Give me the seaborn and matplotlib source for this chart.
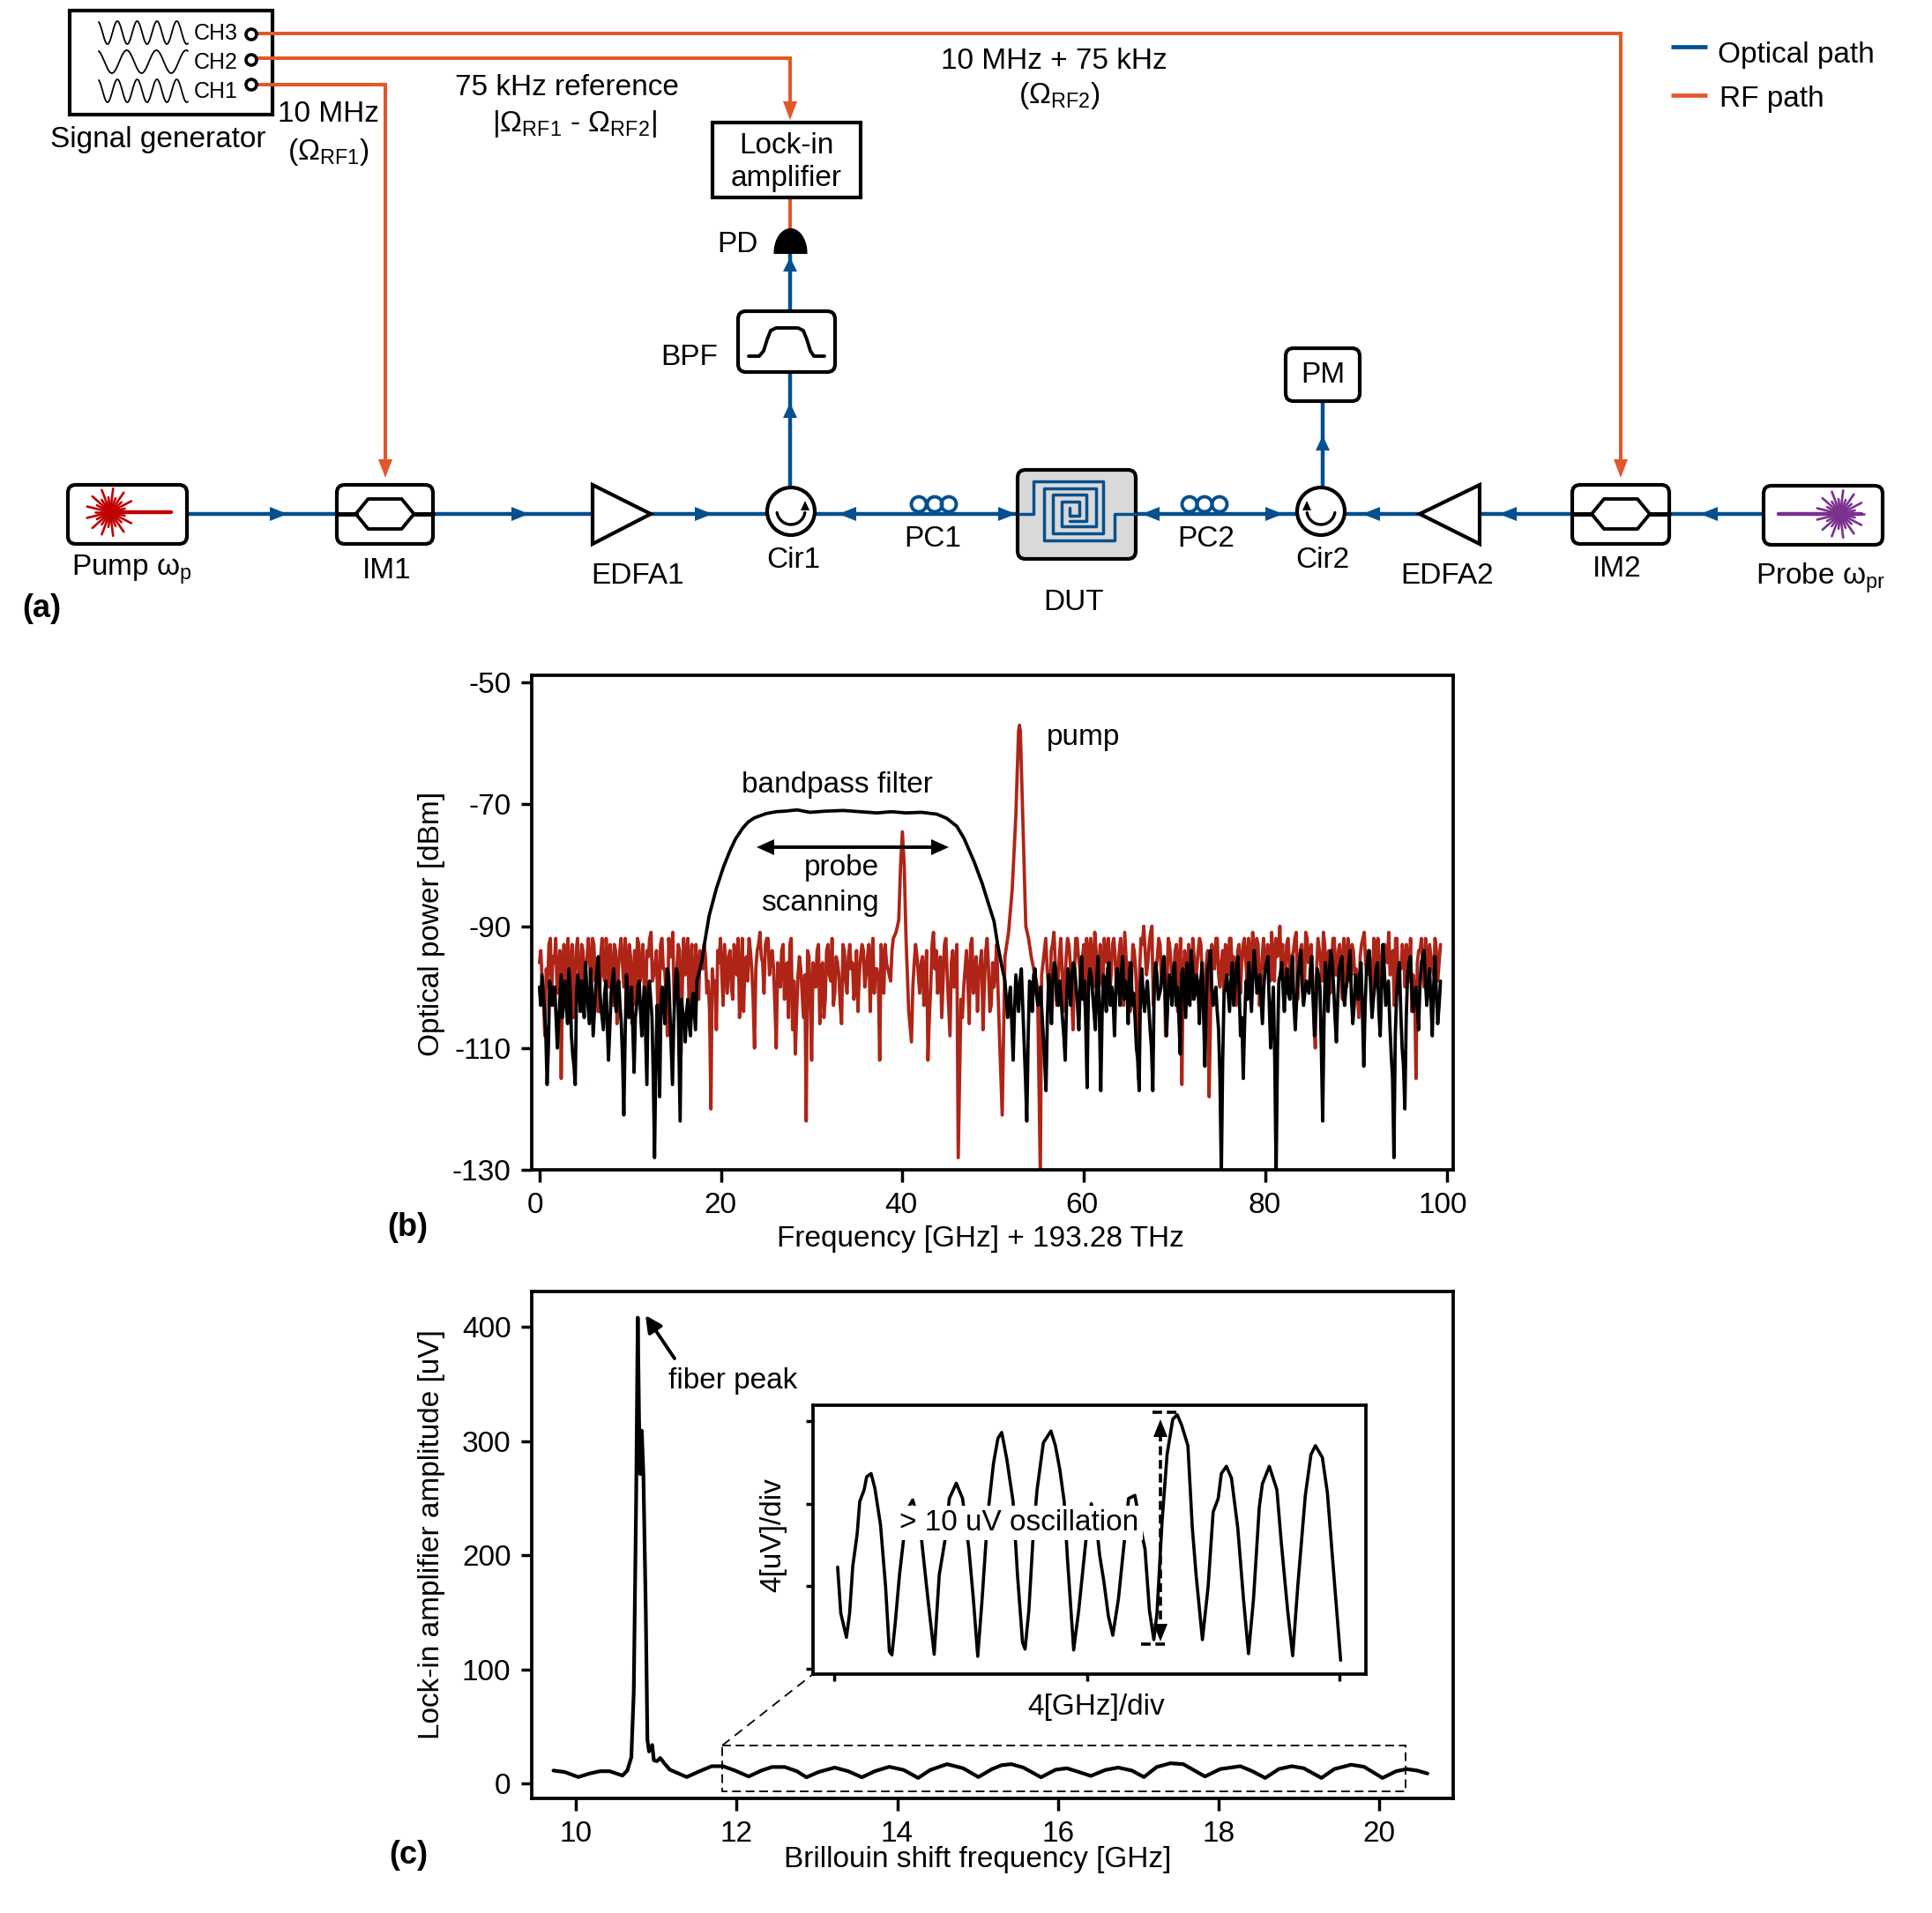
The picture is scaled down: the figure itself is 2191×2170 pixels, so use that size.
import numpy as np
import matplotlib
matplotlib.use("Agg")
import matplotlib.pyplot as plt
from matplotlib.patches import FancyBboxPatch, Polygon, Circle, Rectangle
from matplotlib.transforms import ScaledTranslation
import seaborn as sns

W, H = 2191, 2170
BLUE = "#04508f"
ORANGE = "#e2572b"
RED = "#ae2517"
LASER_RED = "#c00000"
PURPLE = "#7b2f8f"

# panel (b): optical spectrum, every noise stretch has a list of samples and
# a list of the samples read half a step further on
red_low = [-96, -99, -108, -100, -92, -95, -92, -99, -115, -93,
           -95, -100, -93, -98, -92, -104, -94, -97, -92, -101,
           -93, -96, -104, -92, -99, -95, -93, -103, -94, -97,
           -92, -100, -96, -93, -106, -94, -92, -99, -93, -104,
           -95, -91, -98, -94, -102, -92, -97, -108, -95, -91,
           -100, -93, -111, -92, -96, -104, -93, -99, -97, -94,
           -97, -95, -99, -120, -100, -107, -96, -98, -93, -101,
           -94, -102, -96, -92, -99, -104, -95, -92, -97, -110,
           -94, -91, -96, -93, -92, -95, -97, -110, -99, -94,
           -102, -96, -93, -107, -111, -98, -97, -105, -122, -95,
           -112, -97, -94, -106, -96, -102, -93, -99, -103, -95,
           -98, -106, -94, -101, -93, -96, -100, -104, -95, -94,
           -98, -93, -96, -101, -97, -112, -95, -93, -97, -99, -92]
red_low_half = [-94, -102, -97, -93, -100, -96, -101, -94, -98, -103,
                -92, -97, -105, -94, -99, -93, -101, -95, -96, -92,
                -99, -104, -95, -98, -92, -100, -97, -93, -106, -94,
                -96, -92, -101, -95, -98, -103, -93, -97, -100, -94,
                -92, -99, -96, -104, -93, -97, -101, -92, -95, -103,
                -97, -94, -100, -98, -92, -96, -105, -93, -102, -95,
                -93, -101, -104, -97, -99, -94, -92, -103, -97, -95,
                -100, -93, -98, -105, -92, -96, -99, -94, -102, -97,
                -93, -95, -101, -92, -98, -94, -103, -96, -100, -93,
                -97, -105, -92, -99, -104, -95, -101, -98, -94, -102,
                -96, -100, -93, -97, -105, -94, -98, -92, -101, -96,
                -103, -93, -99, -95, -97, -102, -94, -98, -93, -100,
                -95, -104, -92, -97, -99, -93, -101, -96, -98, -94]
probe_freq = [39.3, 39.6, 39.8, 40.0, 40.2, 40.4, 40.7]
probe_db = [-91, -89, -80, -74.5, -80, -92, -104]
red_mid = [-109, -96, -95, -101, -95, -98, -112, -100, -91, -94, -99, -105, -93,
           -98, -108, -94, -97, -128, -102, -100, -94, -106, -92, -99, -104, -96,
           -107, -94, -97, -103, -100, -93, -108]
red_mid_half = [-100, -93, -98, -96, -103, -94, -105, -93, -97, -101, -95, -99, -92,
                -103, -96, -100, -93, -115, -105, -97, -99, -93, -101, -95, -98, -94,
                -100, -92, -104, -96, -97, -101]
pump_freq = [51.0, 51.3, 51.7, 52.1, 52.5, 52.8, 52.9, 53.0, 53.3, 53.6, 53.9, 54.2, 54.6]
pump_db = [-121, -95, -91, -84, -72, -58, -57, -58, -74, -90, -92, -95, -98]
red_high = [-100, -131, -96, -92, -100, -94, -91, -103, -95, -97,
            -100, -92, -96, -107, -92, -95, -100, -93, -92, -99,
            -96, -91, -104, -93, -100, -95, -92, -98, -92, -101,
            -94, -96, -91, -99, -104, -93, -97, -115, -92, -90,
            -98, -93, -90, -100, -95, -93, -97, -108, -92, -96,
            -99, -93, -97, -116, -94, -100, -96, -92, -99, -94,
            -93, -105, -96, -118, -93, -97, -92, -100, -94, -93,
            -98, -92, -95, -103, -93, -96, -92, -99, -94, -91,
            -97, -93, -100, -92, -96, -94, -91, -99, -95, -90,
            -93, -98, -92, -101, -94, -91, -97, -93, -100, -92,
            -95, -99, -110, -92, -96, -91, -100, -94, -97, -92,
            -98, -93, -102, -95, -92, -99, -94, -97, -105, -93,
            -91, -98, -95, -101, -93, -92, -99, -96, -94, -91,
            -97, -103, -92, -96, -93, -100, -95, -92, -98, -115,
            -94, -92, -100, -95, -93, -97, -92, -99, -93]
red_high_half = [-115, -98, -94, -97, -102, -93, -96, -99, -92, -104,
                 -95, -93, -101, -98, -92, -97, -95, -103, -94, -92,
                 -100, -94, -97, -99, -92, -96, -101, -93, -95, -98,
                 -92, -103, -95, -96, -99, -94, -102, -97, -93, -94,
                 -96, -91, -103, -97, -92, -99, -95, -100, -93, -101,
                 -94, -104, -92, -98, -96, -93, -102, -95, -97, -92,
                 -99, -100, -94, -105, -95, -92, -98, -96, -101, -94,
                 -92, -97, -99, -94, -101, -93, -96, -92, -98, -95,
                 -92, -103, -95, -97, -93, -99, -96, -92, -94, -97,
                 -100, -93, -96, -95, -92, -102, -94, -98, -91, -96,
                 -93, -104, -97, -94, -99, -93, -95, -101, -92, -98,
                 -94, -96, -92, -100, -95, -93, -98, -101, -95, -92,
                 -96, -94, -99, -92, -97, -95, -100, -93, -96, -98,
                 -94, -92, -101, -97, -95, -93, -99, -104, -100, -96,
                 -94, -97, -92, -101, -95, -98, -94, -96]
black_low = [-100, -98, -104, -116, -99, -103, -100, -110, -102, -105,
             -99, -106, -100, -111, -116, -98, -104, -101, -96, -103,
             -97, -108, -100, -95, -103, -107, -99, -112, -101, -97,
             -104, -99, -106, -121, -98, -105, -100, -114, -103, -99,
             -108, -100, -116, -99, -105, -128, -103, -118, -100, -106,
             -97, -104, -116, -100, -98, -122, -104, -109, -102, -108, -101, -107]
black_low_half = [-103, -101, -108, -110, -101, -100, -105, -106, -98, -102,
                  -103, -97, -108, -113, -101, -100, -99, -105, -100, -106,
                  -101, -104, -97, -100, -105, -101, -106, -107, -99, -102,
                  -100, -103, -112, -108, -101, -103, -107, -105, -100, -104,
                  -103, -108, -101, -102, -115, -112, -108, -103, -102, -100,
                  -98, -110, -106, -97, -110, -102, -105, -104, -106, -103, -104]
filter_freq = [17.35, 17.9, 18.15, 18.7, 19.5, 20.3, 21.0, 21.6, 22.4, 23.0, 23.7, 25.0, 26.1, 27.1, 28.4, 29.8,
               31.6, 33.5, 35.3, 37.2, 38.8, 40.4, 42.1, 43.8, 44.9, 46.0, 46.8, 47.9, 48.8, 49.4, 50.1, 50.5, 51.0, 51.3]
filter_db = [-99, -95.8, -93.2, -88.3, -83.8, -80.2, -77.6, -75.7, -73.9, -72.9, -72.2, -71.5, -71.2, -71.1, -70.9, -71.3,
             -71.1, -71, -71.2, -71.4, -71.2, -71.4, -71.3, -71.6, -72.3, -73.6, -75.6, -79.4, -83, -85.9, -89.2, -93, -96.9, -98.9]
black_high = [-105, -100, -112, -98, -104, -97, -109, -122, -99, -104,
              -97, -103, -100, -108, -117, -98, -106, -96, -102, -99,
              -105, -112, -97, -103, -96, -100, -107, -95, -99, -116.5,
              -97, -101, -107, -95, -117, -98, -104, -96, -100, -108,
              -97, -103, -95, -99, -106, -96, -101, -110, -117, -97,
              -104, -99, -107, -117, -96, -102, -100, -95, -108, -98,
              -103, -96, -100, -111, -97, -105, -99, -94, -102, -98,
              -106, -96, -113, -97, -94, -103, -100, -107, -131, -101,
              -98, -104, -96, -100, -95, -108, -115, -99, -96, -104,
              -94, -101, -98, -106, -97, -95, -110, -100, -131, -99,
              -96, -104, -97, -102, -95, -107, -98, -94, -103, -99,
              -101, -95, -108, -97, -100, -122, -96, -104, -94, -100,
              -109, -97, -95, -103, -99, -94, -106, -98, -102, -96,
              -113, -97, -94, -105, -100, -96, -108, -93, -103, -99,
              -111, -128, -101, -96, -110, -120, -98, -95, -104, -100,
              -107, -96, -94, -103, -97, -108, -95, -106, -99]
black_high_half = [-102, -106, -104, -101, -99, -103, -115, -108, -100, -98,
                   -101, -102, -104, -112, -105, -100, -99, -97, -103, -102,
                   -108, -103, -99, -98, -97, -103, -99, -102, -106, -100,
                   -98, -104, -99, -105, -104, -100, -97, -103, -102, -100,
                   -99, -97, -102, -100, -97, -103, -105, -112, -100, -102,
                   -101, -103, -110, -99, -98, -101, -97, -101, -102, -99,
                   -97, -103, -105, -98, -101, -96, -103, -97, -101, -100,
                   -99, -104, -102, -96, -100, -102, -104, -115, -112, -100,
                   -101, -99, -103, -97, -100, -105, -106, -102, -100, -98,
                   -97, -100, -102, -100, -96, -103, -104, -112, -110, -98,
                   -100, -99, -101, -98, -103, -102, -96, -100, -101, -100,
                   -97, -102, -104, -98, -110, -105, -99, -97, -96, -105,
                   -102, -96, -101, -100, -96, -102, -103, -100, -98, -104,
                   -103, -95, -100, -102, -97, -104, -100, -97, -101, -106,
                   -115, -108, -98, -104, -113, -105, -96, -100, -102, -103,
                   -100, -95, -99, -100, -102, -100, -101, -103]

# panel (c): lock-in amplitude
lockin_freq = [9.72, 9.86, 10.03, 10.17, 10.30, 10.42, 10.58, 10.64, 10.69, 10.72, 10.75, 10.77, 10.786,
               10.80, 10.82, 10.84, 10.87, 10.89, 10.91, 10.95, 10.97, 11.01, 11.05, 11.10, 11.17, 11.38,
               11.54, 11.69, 11.83, 11.98, 12.15, 12.31, 12.44, 12.60, 12.75, 12.87, 13.02, 13.22, 13.39,
               13.56, 13.72, 13.90, 14.08, 14.26, 14.41, 14.62, 14.82, 15.01, 15.18, 15.30, 15.42, 15.57,
               15.79, 15.97, 16.11, 16.24, 16.41, 16.59, 16.75, 16.92, 17.07, 17.23, 17.40, 17.56, 17.83,
               18.02, 18.27, 18.42, 18.58, 18.75, 18.91, 19.06, 19.28, 19.44, 19.65, 19.81, 20.04, 20.21,
               20.34, 20.47, 20.60]
lockin_uv = [11.3, 10, 5.6, 8.7, 10.7, 10.7, 6.9, 11.3, 22.9, 80, 250, 408, 320,
             271, 309, 271, 150, 38.3, 28, 33.7, 20.3, 19.5, 22.3, 17.7, 12, 5.6,
             10.7, 15.1, 15.1, 11.3, 6.1, 11.3, 14.4, 14.4, 10.7, 5.4, 10, 13.9, 10.7,
             5.4, 10.7, 14.6, 11.8, 4.8, 11.8, 16.9, 13.3, 5.6, 12.6, 16, 16.9, 13.9,
             5.4, 12, 13.3, 10.5, 6.6, 11.8, 13.9, 11.3, 5.6, 14.4, 17.7, 16.9, 6.1,
             12.6, 15.1, 10.7, 4.8, 12.6, 15.1, 13.3, 4.8, 12.6, 16.4, 14.6, 4.8, 10.7,
             12.6, 11.3, 8.7]

inset_freq = [12.05, 12.10, 12.19, 12.24, 12.29, 12.36, 12.40, 12.47, 12.51, 12.58, 12.64, 12.73, 12.81,
              12.87, 12.91, 12.96, 13.03, 13.10, 13.17, 13.24, 13.31, 13.38, 13.48, 13.58, 13.66, 13.76,
              13.82, 13.93, 14.03, 14.13, 14.20, 14.27, 14.34, 14.43, 14.52, 14.59, 14.65, 14.73, 14.83,
              14.90, 14.98, 15.02, 15.08, 15.15, 15.21, 15.31, 15.43, 15.50, 15.57, 15.64, 15.69, 15.79,
              15.87, 15.99, 16.07, 16.17, 16.20, 16.27, 16.34, 16.41, 16.50, 16.59, 16.66, 16.76, 16.87,
              16.92, 16.99, 17.06, 17.11, 17.19, 17.27, 17.36, 17.43, 17.50, 17.60, 17.67, 17.73, 17.83,
              17.92, 18.00, 18.08, 18.13, 18.21, 18.29, 18.39, 18.48, 18.56, 18.64, 18.73, 18.78, 18.89,
              19.01, 19.08, 19.18, 19.26, 19.34, 19.46, 19.55, 19.62, 19.73, 19.81, 19.88, 20.02]
inset_uv = [8.93, 6.69, 5.52, 6.69, 8.97, 10.54, 12.1, 12.67, 13.3, 13.46, 12.75, 10.96, 7.97,
            4.84, 4.67, 6.12, 8.54, 10.4, 11.8, 12.18, 11.4, 10.25, 7.4, 4.7, 8.54, 10.4,
            12.25, 12.99, 12.25, 9.8, 7.4, 4.6, 7.4, 11.5, 13.96, 15.17, 15.45, 14.17, 12.1,
            8.54, 5.27, 4.95, 6.83, 10.54, 12.67, 14.95, 15.52, 14.81, 13.67, 12.1, 9.4, 4.91,
            6.83, 10.4, 12, 10.4, 9.54, 8.19, 6.55, 5.62, 7.4, 10.1, 12.25, 12.4, 10.54,
            9.8, 6.83, 5.41, 6.69, 11.1, 14.38, 16.09, 16.31, 15.81, 14.81, 10.82, 8.54, 5.41,
            7.97, 11.6, 12.25, 13.46, 13.81, 13.24, 10.82, 7.4, 4.73, 7.4, 11.8, 12.96, 13.81,
            12.67, 10.1, 6.83, 4.63, 7.97, 12.39, 14.38, 14.81, 14.24, 12.53, 9.8, 4.41]

b_xticks = [0, 20, 40, 60, 80, 100]
b_yticks = [-130, -110, -90, -70, -50]
c_xticks = [10, 12, 14, 16, 18, 20]
c_yticks = [0, 100, 200, 300, 400]
inset_xticks = [12, 16, 20]
inset_yticks = [4, 8, 12, 16]

sns.set_theme(style="ticks", rc={
    "axes.linewidth": 2.7, "xtick.major.width": 2.5, "ytick.major.width": 2.5,
    "xtick.major.size": 10, "ytick.major.size": 9, "xtick.major.pad": 8, "ytick.major.pad": 8,
    "xtick.labelsize": 24, "ytick.labelsize": 24, "axes.labelsize": 24,
    "axes.unicode_minus": False, "text.color": "black", "axes.edgecolor": "black",
    "xtick.color": "black", "ytick.color": "black", "axes.labelcolor": "black",
})
plt.rcParams["font.family"] = ["Liberation Sans", "DejaVu Sans"]
plt.rcParams["mathtext.fontset"] = "custom"
plt.rcParams["mathtext.rm"] = "Liberation Sans"


def axes_at(fig, left, top, right, bottom):
    return fig.add_axes([left / W, 1 - bottom / H, (right - left) / W, (bottom - top) / H])


def weave(samples, halves):
    merged = np.empty(len(samples) + len(halves))
    merged[0::2] = samples
    merged[1::2] = halves
    return merged


fig = plt.figure(figsize=(W / 100, H / 100), dpi=100, facecolor="white")

# (b)
ax_b = axes_at(fig, 603, 766, 1648, 1327)
low_db = weave(red_low, red_low_half)
mid_db = weave(red_mid, red_mid_half)
high_db = weave(red_high, red_high_half)
red_x = np.concatenate([np.linspace(0, 39, len(low_db)), probe_freq,
                        np.linspace(41, 50.7, len(mid_db)), pump_freq,
                        np.linspace(54.9, 99.3, len(high_db))])
red_y = np.concatenate([low_db, probe_db, mid_db, pump_db, high_db])
blow_db = weave(black_low, black_low_half)
bhigh_db = weave(black_high, black_high_half)
black_x = np.concatenate([np.linspace(0, 17.2, len(blow_db)), filter_freq,
                          np.linspace(51.6, 99.3, len(bhigh_db))])
black_y = np.concatenate([blow_db, filter_db, bhigh_db])
sns.lineplot(x=red_x, y=red_y, color=RED, linewidth=2.7, estimator=None, sort=False, ax=ax_b)
sns.lineplot(x=black_x, y=black_y, color="black", linewidth=2.7, estimator=None, sort=False, ax=ax_b)
ax_b.set_xlim(-0.85, 100.7)
ax_b.set_ylim(-130, -48.8)
ax_b.set_xticks(b_xticks)
ax_b.set_yticks(b_yticks)
ax_b.set_xlabel("Frequency [GHz] + 193.28 THz")
ax_b.set_ylabel("Optical power [dBm]")
ax_b.xaxis.set_label_coords(0.487, -0.113)
ax_b.yaxis.set_label_coords(-0.094, 0.497)
for tick_label, shift in zip(ax_b.get_xticklabels(), [-5, -0.5, -1.5, -2, -0.5, -4.5]):
    tick_label.set_transform(tick_label.get_transform() + ScaledTranslation(shift / 100, 0, fig.dpi_scale_trans))

# (c)
ax_c = axes_at(fig, 603, 1465, 1648, 2040)
sns.lineplot(x=lockin_freq, y=lockin_uv, color="black", linewidth=3.0, estimator=None, sort=False, ax=ax_c)
ax_c.set_xlim(9.45, 20.92)
ax_c.set_ylim(-13.1, 430.9)
ax_c.set_xticks(c_xticks)
ax_c.set_yticks(c_yticks)
ax_c.set_xlabel("Brillouin shift frequency [GHz]")
ax_c.set_ylabel("Lock-in amplifier amplitude [uV]")
ax_c.xaxis.set_label_coords(0.484, -0.094)
ax_c.yaxis.set_label_coords(-0.094, 0.52)

# inset of (c)
ax_i = axes_at(fig, 922, 1594, 1549, 1899)
sns.lineplot(x=inset_freq, y=inset_uv, color="black", linewidth=2.6, estimator=None, sort=False, ax=ax_i)
ax_i.set_xlim(11.66, 20.42)
ax_i.set_ylim(3.74, 16.77)
ax_i.set_xticks(inset_xticks)
ax_i.set_yticks(inset_yticks)
ax_i.set_xticklabels([])
ax_i.set_yticklabels([])
ax_i.tick_params(length=6)

# overlay in figure pixels for the setup diagram and the annotations
ov = fig.add_axes([0, 0, 1, 1], zorder=10)
ov.set_xlim(0, W)
ov.set_ylim(H, 0)
ov.axis("off")
ov.patch.set_alpha(0)


def label(x, y, s, size=24, **kw):
    kw.setdefault("ha", "center")
    kw.setdefault("va", "center")
    ov.text(x, y + 3, s, fontsize=size, color="black", **kw)


def line(xs, ys, color, lw=2.9, zorder=2, **kw):
    ov.plot(xs, ys, color=color, lw=lw, solid_capstyle="butt", solid_joinstyle="miter", zorder=zorder, **kw)


def head(x, y, direction, color, length=20, half=8):
    # tip of the arrow at x, y
    dx, dy = {"r": (1, 0), "l": (-1, 0), "u": (0, -1), "d": (0, 1)}[direction]
    bx, by = x - dx * length, y - dy * length
    pts = [(x, y), (bx - dy * half, by - dx * half), (bx + dy * half, by + dx * half)]
    ov.add_patch(Polygon(pts, closed=True, facecolor=color, edgecolor="none", zorder=8))


def box(x0, y0, x1, y1, round_=True, fc="white", lw=3.0):
    style = "round,pad=0,rounding_size=9" if round_ else "square,pad=0"
    ov.add_patch(FancyBboxPatch((x0, y0), x1 - x0, y1 - y0, boxstyle=style,
                                facecolor=fc, edgecolor="black", linewidth=lw, zorder=3))


def burst(cx, cy, color):
    angles = np.linspace(0, 2 * np.pi, 26, endpoint=False)
    for i, a in enumerate(angles):
        r = 27 if i % 2 == 0 else 17
        ov.plot([cx, cx + r * np.cos(a)], [cy, cy + r * np.sin(a)], color=color, lw=1.9, zorder=5)


def modulator(x0, x1):
    box(x0, 550, x1, 617)
    mid = (x0 + x1) / 2
    hx = [mid - 33, mid - 19, mid + 19, mid + 33, mid + 19, mid - 19, mid - 33]
    hy = [583, 566, 566, 583, 600, 600, 583]
    ov.plot(hx, hy, color="black", lw=2.8, zorder=4)
    ov.plot([x0, mid - 33], [583, 583], color="black", lw=3.6, zorder=4)
    ov.plot([mid + 33, x1], [583, 583], color="black", lw=3.6, zorder=4)


def circulator(cx, cy, tip_right=True):
    ov.add_patch(Circle((cx, cy), 27, facecolor="white", edgecolor="black", linewidth=3.0, zorder=3))
    t = np.linspace(0.05 * np.pi, 0.95 * np.pi, 30)
    ov.plot(cx + 16 * np.cos(t), cy + 16 * np.sin(t) - 1, color="black", lw=2.4, zorder=4)
    if tip_right:
        head(cx + 16, cy - 12, "u", "black", length=11, half=5)
    else:
        head(cx - 16, cy - 12, "u", "black", length=11, half=5)


# optical path
line([212, 1156], [583, 583], BLUE, lw=3.2)
line([1288, 2000], [583, 583], BLUE, lw=3.2)
line([896, 896], [551, 287], BLUE, lw=3.2)
line([1500, 1500], [551, 455], BLUE, lw=3.2)
for tip in [326, 600, 808, 1152, 1455]:
    head(tip, 583, "r", BLUE)
for tip in [951, 1295, 1545, 1700, 1928]:
    head(tip, 583, "l", BLUE)
head(896, 457, "u", BLUE, length=17)
head(896, 292, "u", BLUE, length=16)
head(1500, 494, "u", BLUE, length=17)

# rf path, starts at the connectors inside the generator box
line([285, 1838, 1838], [38, 38, 525], ORANGE, zorder=5)
line([285, 896, 896], [66, 66, 118], ORANGE, zorder=5)
line([285, 437, 437], [96, 96, 525], ORANGE, zorder=5)
line([896, 896], [224, 262], ORANGE)
head(896, 136, "d", ORANGE, length=21)
head(437, 542, "d", ORANGE, length=21)
head(1838, 542, "d", ORANGE, length=21)

# signal generator
box(79, 12, 309, 130, round_=False)
wave_x = np.linspace(112, 213, 200)
for wy, cycles in [(37, 4.5), (70, 3), (103, 4.5)]:
    ov.plot(wave_x, wy + 13 * np.sin(2 * np.pi * cycles * (wave_x - 112) / 101 - 1.2), color="black", lw=1.3, zorder=4)
for ly, cy, name in [(35, 39, "CH3"), (68, 68, "CH2"), (101, 96, "CH1")]:
    label(220, ly, name, size=18, ha="left")
    ov.add_patch(Circle((285, cy), 6, facecolor="white", edgecolor="black", linewidth=2.6, zorder=6))

# lock-in, PD, BPF, PM
box(808, 139, 976, 224, round_=False)
label(892, 162, "Lock-in")
label(892, 200, "amplifier")
t = np.linspace(np.pi, 2 * np.pi, 40)
ov.add_patch(Polygon(np.column_stack([896.5 + 18 * np.cos(t), 287 + 27 * np.sin(t)]), closed=True,
                     facecolor="black", edgecolor="black", linewidth=1.5, zorder=5))
label(836, 275, "PD")
box(837, 353, 947, 422)
ov.plot([849, 861, 866, 870, 874, 880, 905, 911, 915, 919, 923, 935], [404, 404, 398, 385, 375, 372, 372, 375, 385, 398, 404, 404],
        color="black", lw=2.8, zorder=4, solid_joinstyle="round")
label(782, 403, "BPF")
box(1458, 395, 1542, 455)
label(1500, 422, "PM")

# lasers
box(77, 550, 212, 617)
burst(125, 581, LASER_RED)
ov.plot([125, 194], [581, 581], color=LASER_RED, lw=3.2, zorder=5)
box(2000, 551, 2135, 618)
burst(2087, 583, PURPLE)
ov.plot([2017, 2111], [583, 583], color=PURPLE, lw=3.2, zorder=5)

modulator(382, 491)
modulator(1783, 1893)

# amplifiers
ov.add_patch(Polygon([(672, 550), (672, 617), (738, 583)], closed=True, facecolor="white",
                     edgecolor="black", linewidth=3.0, zorder=3))
ov.add_patch(Polygon([(1678, 550), (1678, 617), (1610, 583)], closed=True, facecolor="white",
                     edgecolor="black", linewidth=3.0, zorder=3))

circulator(897, 580, tip_right=True)
circulator(1498, 580, tip_right=False)

# polarization controllers
for cx in [1042, 1060, 1076, 1349, 1366, 1383]:
    ov.add_patch(Circle((cx, 572), 8.5, facecolor="none", edgecolor=BLUE, linewidth=2.8, zorder=4))

# DUT with spiral
box(1154, 533, 1288, 634, fc="#d9d9d9")
ov.plot([1156, 1172, 1172, 1251, 1251, 1194, 1194, 1232, 1232, 1213],
        [583, 583, 546, 546, 605, 605, 561, 561, 591, 591], color=BLUE, lw=2.5, zorder=4)
ov.plot([1288, 1264, 1264, 1184, 1184, 1243, 1243, 1204, 1204, 1224, 1224, 1213, 1213],
        [583, 583, 613, 613, 554, 554, 597, 597, 569, 569, 585, 585, 576], color=BLUE, lw=2.5, zorder=4)

# legend
line([1895, 1936], [53, 53], BLUE, lw=3.4)
line([1895, 1936], [108, 108], ORANGE, lw=3.4)
label(1948, 59, "Optical path", ha="left")
label(1950, 109, "RF path", ha="left")

# diagram labels
label(179, 155, "Signal generator")
label(372, 126, "10 MHz")
label(372, 169, "(Ω$_{\\mathrm{RF1}}$)")
label(643, 96, "75 kHz reference")
label(651, 137, "|Ω$_{\\mathrm{RF1}}$ - Ω$_{\\mathrm{RF2}}$|")
label(1195, 66, "10 MHz + 75 kHz")
label(1201, 105, "(Ω$_{\\mathrm{RF2}}$)")
label(149, 643, "Pump ω$_{\\mathrm{p}}$")
label(439, 644, "IM1")
label(723, 651, "EDFA1")
label(900, 632, "Cir1")
label(1058, 609, "PC1")
label(1218, 680, "DUT")
label(1368, 609, "PC2")
label(1500, 632, "Cir2")
label(1641, 651, "EDFA2")
label(1834, 642, "IM2")
label(2065, 653, "Probe ω$_{\\mathrm{pr}}$")
label(47, 687, "(a)", size=26, fontweight="bold")
label(462, 1390, "(b)", size=26, fontweight="bold")
label(463, 2102, "(c)", size=26, fontweight="bold")

# annotations on (b)
label(949, 887, "bandpass filter")
label(1229, 834, "pump")
label(954, 982, "probe")
label(930, 1021, "scanning")
line([875, 1060], [961, 961], "black", lw=2.8)
head(858, 961, "l", "black", length=20, half=9)
head(1076, 961, "r", "black", length=20, half=9)

# annotations on (c)
label(831, 1563, "fiber peak")
ov.annotate("", xy=(732, 1492), xytext=(765, 1541),
            arrowprops=dict(arrowstyle="-|>", color="black", lw=2.8, mutation_scale=28, shrinkA=0, shrinkB=0))
ov.add_patch(Rectangle((819, 1980), 775, 52, fill=False, edgecolor="black", linewidth=1.3, linestyle=(0, (5.5, 3)), zorder=4))
ov.plot([819, 922], [1980, 1899], color="black", lw=1.3, linestyle=(0, (6, 4)))
label(877, 1738, "4[uV]/div", rotation=90)
label(1243, 1933, "4[GHz]/div")
label(1156, 1724, "> 10 uV oscillation", bbox=dict(facecolor="white", edgecolor="none", pad=3), zorder=6)
ov.plot([1316, 1316], [1625, 1845], color="black", lw=2.6, linestyle=(0, (2.8, 1.5)), zorder=7)
head(1316, 1610, "u", "black", length=20, half=8)
head(1316, 1862, "d", "black", length=20, half=8)
ov.plot([1307, 1335], [1602, 1602], color="black", lw=2.6, linestyle=(0, (3, 1.5)), zorder=7)
ov.plot([1294, 1323], [1865, 1865], color="black", lw=2.6, linestyle=(0, (3, 1.5)), zorder=7)

fig.savefig("out.png", dpi=100, facecolor="white")
